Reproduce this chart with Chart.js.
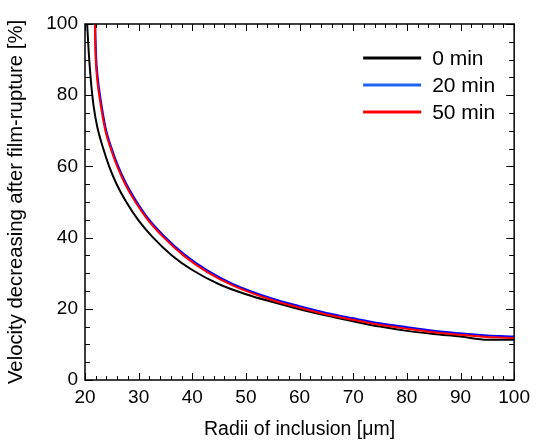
<!DOCTYPE html>
<html>
<head>
<meta charset="utf-8">
<script src="https://cdn.jsdelivr.net/npm/chart.js@4/dist/chart.umd.min.js"></script>
<style>
html,body{margin:0;padding:0;background:#fff;}
#wrap{width:536px;height:447px;position:relative;}
</style>
</head>
<body>
<div id="wrap"><canvas id="c" width="536" height="447"></canvas></div>
<script>
// ---- data ----
const seriesLabels = ["0 min", "20 min", "50 min"];

const x0min = [20.4, 20.7, 21.1, 21.6, 22.3, 23.3, 24.5, 25.9, 27.7, 29.9, 32.7, 36.2, 40, 45, 50, 55, 60, 65, 70, 75, 80, 85, 90, 95, 100];
const y0min = [100, 92, 84, 77, 71, 65.5, 60, 55, 50, 45, 40, 35, 30.9, 26.9, 24.1, 21.9, 19.9, 18.1, 16.5, 15.0, 13.8, 12.9, 12.2, 11.3, 11.3];

const x20min = [21.9, 21.95, 22.05, 22.35, 22.85, 23.85, 24.85, 26.05, 27.55, 29.45, 31.75, 34.75, 38.55, 42.85, 47.5, 55, 60, 65, 70, 75, 80, 85, 90, 95, 100];
const y20min = [100, 96, 91, 85, 79.3, 70.6, 65.5, 60.5, 55.5, 50.5, 45.4, 40.4, 35.2, 30.7, 27.0, 22.8, 20.7, 18.8, 17.3, 15.9, 14.8, 13.8, 13.1, 12.5, 12.2];

const x50min = [21.85, 21.9, 22.0, 22.3, 22.8, 23.8, 24.8, 26.0, 27.5, 29.4, 31.7, 34.7, 38.5, 42.8, 47.5, 55, 60, 65, 70, 75, 80, 85, 90, 95, 100];
const y50min = [100, 95, 90, 84, 78.5, 70, 65, 60, 55, 50, 45, 40, 34.8, 30.3, 26.6, 22.4, 20.3, 18.4, 16.9, 15.5, 14.4, 13.4, 12.7, 12.1, 11.8];

const xTicksMajor = [20, 30, 40, 50, 60, 70, 80, 90, 100];
const yTicksMajor = [0, 20, 40, 60, 80, 100];

function pts(xs, ys){ return xs.map((x,i)=>({x:x, y:ys[i]})); }

const FONT = "'Liberation Sans', Arial, sans-serif";

const frame = {
  id: 'frame',
  afterDatasetsDraw(chart){
    const {ctx, chartArea:a, scales:{x, y}} = chart;
    ctx.save();
    ctx.strokeStyle = '#000';
    ctx.lineWidth = 1;
    for (let v = 20; v <= 100; v += 2) {
      const px = Math.round(x.getPixelForValue(v)) + 0.5;
      const L = (v % 10 === 0) ? 7 : 4;
      ctx.beginPath();
      ctx.moveTo(px, a.bottom); ctx.lineTo(px, a.bottom - L);
      ctx.moveTo(px, a.top); ctx.lineTo(px, a.top + L);
      ctx.stroke();
    }
    for (let v = 0; v <= 100; v += 5) {
      const py = Math.round(y.getPixelForValue(v)) + 0.5;
      const L = (v % 20 === 0) ? 8 : 5;
      ctx.beginPath();
      ctx.moveTo(a.left, py); ctx.lineTo(a.left + L, py);
      ctx.moveTo(a.right, py); ctx.lineTo(a.right - L, py);
      ctx.stroke();
    }
    ctx.lineWidth = 1.5;
    ctx.strokeRect(a.left, a.top, a.right - a.left, a.bottom - a.top);

    // legend
    const legendColors = ['#000000', '#1e64f0', '#ff0000'];
    const rowY = [57, 84, 111];
    ctx.font = '21px ' + FONT;
    ctx.textBaseline = 'middle';
    ctx.textAlign = 'left';
    chart.data.datasets.forEach((ds, i) => {
      const yy = a.top + rowY[i] - 23;
      ctx.strokeStyle = legendColors[i];
      ctx.lineWidth = 3;
      ctx.beginPath();
      ctx.moveTo(a.right - 151, yy); ctx.lineTo(a.right - 93, yy);
      ctx.stroke();
      ctx.fillStyle = '#000';
      ctx.fillText(ds.label, a.right - 82, yy + 1);
    });
    ctx.restore();
  }
};

new Chart(document.getElementById('c'), {
  type: 'line',
  data: {
    datasets: [
      { label: seriesLabels[0], data: pts(x0min, y0min), borderColor: '#000000', borderWidth: 2, order: 2 },
      { label: seriesLabels[1], data: pts(x20min, y20min), borderColor: '#0000ff', borderWidth: 2.2, order: 1 },
      { label: seriesLabels[2], data: pts(x50min, y50min), borderColor: '#ff0000', borderWidth: 2, order: 0 }
    ]
  },
  options: {
    responsive: false,
    animation: false,
    layout: { padding: { top: 24, right: 19, left: 0, bottom: 0 } },
    elements: { point: { radius: 0 }, line: { cubicInterpolationMode: 'monotone', fill: false } },
    plugins: { legend: { display: false }, tooltip: { enabled: false } },
    scales: {
      x: {
        type: 'linear', min: 20, max: 100,
        afterBuildTicks(s){ s.ticks = xTicksMajor.map(v => ({value: v})); },
        afterFit(s){ s.height = 67; },
        grid: { display: false, drawTicks: false },
        border: { display: false },
        ticks: { color: '#000', padding: 6, maxRotation: 0, font: { family: FONT, size: 19 } },
        title: { display: true, text: 'Radii of inclusion [μm]', color: '#000', padding: { top: 0, bottom: 6 }, font: { family: FONT, size: 19.5 } }
      },
      y: {
        type: 'linear', min: 0, max: 100,
        afterBuildTicks(s){ s.ticks = yTicksMajor.map(v => ({value: v})); },
        afterFit(s){ s.width = 85; },
        grid: { display: false, drawTicks: false },
        border: { display: false },
        ticks: { color: '#000', padding: 7, font: { family: FONT, size: 19 } },
        title: { display: true, text: 'Velocity decreasing after film-rupture [%]', color: '#000', padding: { top: 4, bottom: 0 }, font: { family: FONT, size: 20.3 } }
      }
    }
  },
  plugins: [frame]
});
</script>
</body>
</html>
